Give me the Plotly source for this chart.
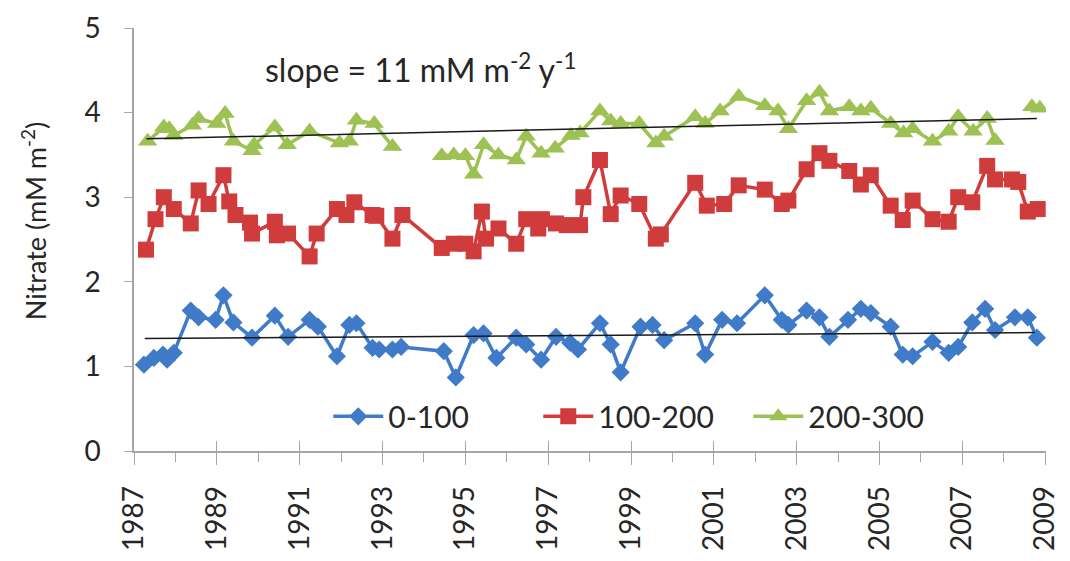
import plotly.graph_objects as go

# Depth-integrated nitrate inventories (mM m^-2) by depth layer
t_0_100 = [1987.24, 1987.48, 1987.70, 1987.80, 1987.96, 1988.37, 1988.56, 1988.97, 1989.16, 1989.40,
           1989.85, 1990.40, 1990.72, 1991.24, 1991.44, 1991.90, 1992.20, 1992.37, 1992.76, 1992.92,
           1993.24, 1993.45, 1994.48, 1994.77, 1995.20, 1995.44, 1995.75, 1996.23, 1996.47, 1996.83,
           1997.19, 1997.53, 1997.72, 1998.25, 1998.51, 1998.75, 1999.23, 1999.52, 1999.80, 2000.55,
           2000.79, 2001.20, 2001.56, 2002.23, 2002.64, 2002.80, 2003.24, 2003.55, 2003.79, 2004.24,
           2004.55, 2004.79, 2005.27, 2005.56, 2005.80, 2006.28, 2006.67, 2006.90, 2007.24, 2007.55,
           2007.79, 2008.27, 2008.58, 2008.80]
n_0_100 = [1.02, 1.10, 1.14, 1.08, 1.16, 1.66, 1.58, 1.55, 1.84, 1.52,
           1.34, 1.60, 1.35, 1.55, 1.47, 1.12, 1.49, 1.51, 1.22, 1.20,
           1.20, 1.23, 1.18, 0.87, 1.37, 1.39, 1.10, 1.34, 1.26, 1.08,
           1.35, 1.28, 1.20, 1.51, 1.26, 0.93, 1.47, 1.49, 1.31, 1.51,
           1.14, 1.55, 1.51, 1.84, 1.55, 1.49, 1.66, 1.58, 1.35, 1.55,
           1.68, 1.63, 1.47, 1.14, 1.12, 1.29, 1.16, 1.23, 1.52, 1.68,
           1.43, 1.58, 1.58, 1.34]

t_100_200 = [1987.29, 1987.52, 1987.72, 1987.96, 1988.37, 1988.56, 1988.80, 1989.16, 1989.30, 1989.45,
             1989.80, 1989.85, 1990.40, 1990.45, 1990.72, 1991.24, 1991.41, 1991.90, 1992.13, 1992.32,
             1992.76, 1992.85, 1993.24, 1993.48, 1994.43, 1994.72, 1995.00, 1995.20, 1995.40, 1995.50,
             1995.80, 1996.23, 1996.47, 1996.76, 1996.85, 1997.19, 1997.45, 1997.77, 1997.85, 1998.25,
             1998.51, 1998.75, 1999.20, 1999.60, 1999.72, 2000.55, 2000.83, 2001.25, 2001.60, 2002.23,
             2002.64, 2002.80, 2003.24, 2003.55, 2003.79, 2004.27, 2004.55, 2004.79, 2005.27, 2005.56,
             2005.80, 2006.28, 2006.67, 2006.90, 2007.24, 2007.60, 2007.79, 2008.20, 2008.35, 2008.58,
             2008.82]
n_100_200 = [2.38, 2.74, 3.00, 2.86, 2.69, 3.08, 2.92, 3.26, 2.95, 2.79,
             2.70, 2.57, 2.71, 2.55, 2.57, 2.30, 2.57, 2.86, 2.79, 2.94,
             2.79, 2.78, 2.51, 2.79, 2.40, 2.45, 2.45, 2.36, 2.83, 2.51,
             2.63, 2.45, 2.74, 2.63, 2.74, 2.69, 2.67, 2.67, 3.00, 3.44,
             2.80, 3.02, 2.92, 2.51, 2.56, 3.17, 2.90, 2.92, 3.14, 3.09,
             2.92, 2.96, 3.33, 3.52, 3.43, 3.31, 3.15, 3.26, 2.90, 2.73,
             2.96, 2.74, 2.71, 3.00, 2.94, 3.37, 3.21, 3.21, 3.18, 2.83,
             2.86]

t_200_300 = [1987.33, 1987.72, 1987.85, 1987.96, 1988.41, 1988.56, 1989.00, 1989.20, 1989.40, 1989.85,
             1989.90, 1990.40, 1990.70, 1991.24, 1991.96, 1992.20, 1992.37, 1992.80, 1993.24, 1993.80,
             1994.43, 1994.72, 1995.00, 1995.20, 1995.44, 1995.80, 1996.23, 1996.47, 1996.83, 1997.17,
             1997.55, 1997.77, 1998.25, 1998.51, 1998.75, 1999.20, 1999.60, 1999.80, 2000.55, 2000.79,
             2001.15, 2001.60, 2002.23, 2002.55, 2002.80, 2003.24, 2003.55, 2003.79, 2004.27, 2004.55,
             2004.79, 2005.27, 2005.58, 2005.80, 2006.28, 2006.67, 2006.90, 2007.26, 2007.60, 2007.79,
             2008.10, 2008.68, 2008.87]
n_200_300 = [3.66, 3.83, 3.81, 3.73, 3.85, 3.93, 3.87, 3.99, 3.66, 3.55,
             3.62, 3.83, 3.62, 3.78, 3.64, 3.66, 3.91, 3.87, 3.60, None,
             3.49, 3.50, 3.49, 3.27, 3.62, 3.50, 3.44, 3.72, 3.52, 3.58,
             3.73, 3.76, 4.02, 3.90, 3.87, 3.87, 3.64, 3.72, 3.95, 3.87,
             4.02, 4.19, 4.08, 4.02, 3.81, 4.14, 4.24, 4.02, 4.07, 4.02,
             4.05, 3.87, 3.76, 3.81, 3.66, 3.78, 3.95, 3.78, 3.93, 3.67,
             None, 4.07, 4.05]

# Linear trend fits: [start year, end year] and fitted values at those years
trend_years_0_100 = [1987.26, 2008.75]
trend_vals_0_100 = [1.33, 1.40]
trend_years_200_300 = [1987.30, 2008.80]
trend_vals_200_300 = [3.69, 3.93]

year_ticks = list(range(1987, 2010, 2))

series = [
    ("0-100", t_0_100, n_0_100, "#3F7BC8", "diamond", 14),
    ("100-200", t_100_200, n_100_200, "#D03B3B", "square", 16),
    ("200-300", t_200_300, n_200_300, "#9DC152", "triangle-up", 17),
]

FONT = "Lato, 'Open Sans', sans-serif"
TEXT = "#262626"
AXIS = "#a6a6a6"

fig = go.Figure()
for name, t, v, color, symbol, size in series:
    fig.add_trace(go.Scatter(
        x=t, y=v, name=name, mode="lines+markers",
        line=dict(color=color, width=3.5),
        marker=dict(symbol=symbol, size=size, color=color),
        connectgaps=False,
    ))

for ty, tv in [(trend_years_0_100, trend_vals_0_100), (trend_years_200_300, trend_vals_200_300)]:
    fig.add_trace(go.Scatter(x=ty, y=tv, mode="lines", showlegend=False, hoverinfo="skip",
                             line=dict(color="#1a1a1a", width=1.5)))

# invisible trace on the overlay axis so its inward tick marks render
fig.add_trace(go.Scatter(x=[1987, 2009], y=[0, 0], xaxis="x2", mode="lines",
                         line=dict(width=0), showlegend=False, hoverinfo="skip"))

fig.add_annotation(x=265, y=63, xref="paper", yref="paper", xanchor="left", yanchor="middle",
                   text="slope = 11 mM m<sup>-2</sup> y<sup>-1</sup>", showarrow=False,
                   font=dict(family=FONT, size=32, color=TEXT))

fig.add_annotation(x=32, y=218, xref="paper", yref="paper", textangle=-90,
                   xanchor="center", yanchor="middle", showarrow=False,
                   text="Nitrate (mM m<sup>-2</sup>)",
                   font=dict(family=FONT, size=27, color=TEXT))

W, H = 1070, 561
L, R, T, B = 134, 10, 23, 110

# convert pixel positions of the two annotations to paper coordinates
for ann in fig.layout.annotations:
    ann.x = (ann.x - L) / (W - L - R)
    ann.y = 1 - (ann.y - T) / (H - T - B)

fig.update_layout(
    width=W, height=H,
    margin=dict(l=L, r=R, t=T, b=B),
    paper_bgcolor="white", plot_bgcolor="white",
    font=dict(family=FONT, size=28, color=TEXT),
    showlegend=True,
    legend=dict(orientation="h", x=0.213, y=0.082, xanchor="left", yanchor="middle",
                font=dict(size=30, color=TEXT), bgcolor="rgba(0,0,0,0)",
                itemwidth=50, entrywidth=145, entrywidthmode="pixels", tracegroupgap=0),
    xaxis=dict(range=[1987, 2009.02], tickvals=year_ticks, ticktext=[str(y) for y in year_ticks],
               tickangle=-90, showgrid=False, zeroline=False,
               showline=True, linecolor=AXIS, linewidth=1.5,
               ticks="outside", ticklen=12, tickcolor=AXIS, tickwidth=1.2,
               ticklabelstandoff=10, ticklabeloverflow="allow",
               minor=dict(dtick=1, tick0=1987, ticks="outside", ticklen=9, tickcolor=AXIS),
               tickfont=dict(size=28)),
    xaxis2=dict(range=[1987, 2009.02], overlaying="x", anchor="y", side="bottom",
                tickvals=year_ticks, showticklabels=False, showgrid=False, zeroline=False,
                showline=False, ticks="inside", ticklen=10, tickcolor=AXIS, tickwidth=1.2),
    yaxis=dict(range=[0, 5], dtick=1, showgrid=False, zeroline=False,
               showline=True, linecolor=AXIS, linewidth=1.5,
               ticks="outside", ticklen=8, tickcolor=AXIS, tickwidth=1.2,
               ticklabelstandoff=18,
               tickfont=dict(size=28)),
)

fig.write_html("out.html")
